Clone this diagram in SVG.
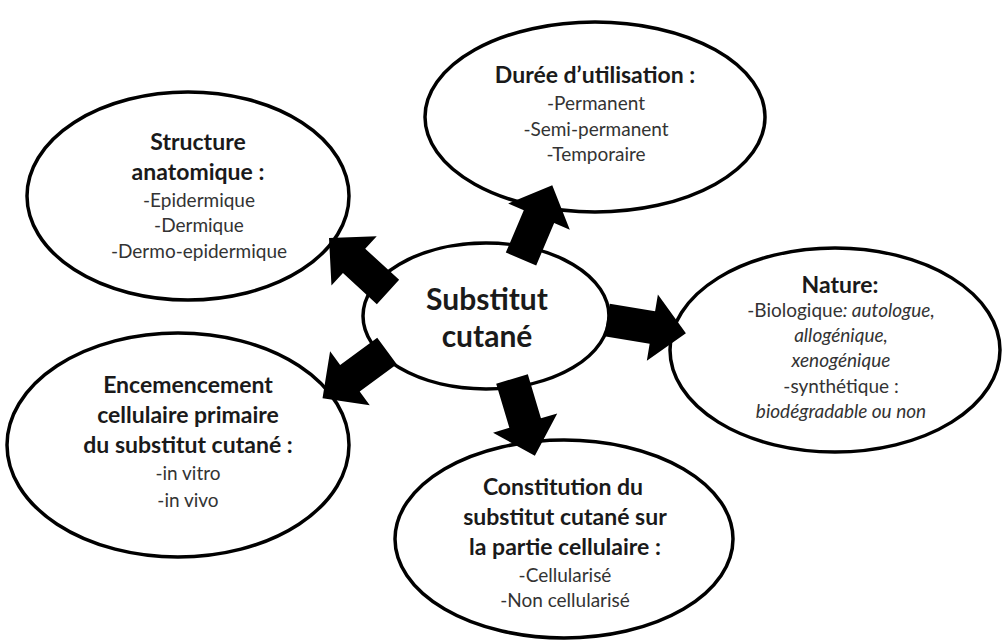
<svg xmlns="http://www.w3.org/2000/svg" xmlns:xlink="http://www.w3.org/1999/xlink" width="1002" height="644" viewBox="0 0 1002 644">
<style>
.ell{fill:#fff;stroke:#000;stroke-width:3.5}
text{font-family:Lato,"Liberation Sans",sans-serif;fill:#1a1a1a;text-anchor:middle}
.h{font-weight:bold;font-size:23px}
.c{font-weight:bold;font-size:30px}
.i{font-size:19px;fill:#333}
.it{font-style:italic}
</style>
<defs>
<polygon id="arr" points="0,-16.5 46,-16.5 46,-33.5 80,0 46,33.5 46,16.5 0,16.5" fill="#000"/>
</defs>
<rect width="1002" height="644" fill="#fff"/>
<g id="structure">
<ellipse class="ell" cx="188" cy="196" rx="161" ry="104"/>
<text class="h" x="198" y="150">Structure</text>
<text class="h" x="198" y="180">anatomique :</text>
<text class="i" x="199" y="207">-Epidermique</text>
<text class="i" x="199" y="232">-Dermique</text>
<text class="i" x="199" y="258">-Dermo-epidermique</text>
</g>
<g id="duree">
<ellipse class="ell" cx="595" cy="117" rx="170" ry="95"/>
<text class="h" x="595" y="83">Durée d’utilisation :</text>
<text class="i" x="596" y="110">-Permanent</text>
<text class="i" x="596" y="136">-Semi-permanent</text>
<text class="i" x="596" y="161">-Temporaire</text>
</g>
<g id="nature">
<ellipse class="ell" cx="835" cy="350" rx="165" ry="102"/>
<text class="h" x="840" y="293">Nature:</text>
<text class="i" x="841" y="317">-Biologique<tspan class="it">: autologue,</tspan></text>
<text class="i it" x="841" y="342">allogénique,</text>
<text class="i it" x="841" y="367">xenogénique</text>
<text class="i" x="841" y="393">-synthétique :</text>
<text class="i it" x="841" y="418">biodégradable ou non</text>
</g>
<g id="encemencement">
<ellipse class="ell" cx="178" cy="445" rx="171" ry="112"/>
<text class="h" x="188" y="393">Encemencement</text>
<text class="h" x="188" y="423">cellulaire primaire</text>
<text class="h" x="188" y="453">du substitut cutané :</text>
<text class="i" x="188" y="480">-in vitro</text>
<text class="i" x="188" y="507">-in vivo</text>
</g>
<g id="constitution">
<ellipse class="ell" cx="564" cy="539" rx="169" ry="99"/>
<text class="h" x="563" y="495">Constitution du</text>
<text class="h" x="565" y="525">substitut cutané sur</text>
<text class="h" x="565" y="555">la partie cellulaire :</text>
<text class="i" x="565" y="582">-Cellularisé</text>
<text class="i" x="565" y="607">-Non cellularisé</text>
</g>
<g id="center">
<ellipse class="ell" cx="486" cy="316" rx="123" ry="73"/>
<text class="c" x="487" y="310">Substitut</text>
<text class="c" x="487" y="347">cutané</text>
</g>
<g id="connectors">
<use xlink:href="#arr" transform="translate(388,292) rotate(-137.5)"/>
<use xlink:href="#arr" transform="translate(521,259) rotate(-67)"/>
<use xlink:href="#arr" transform="translate(607,320) rotate(9.5)"/>
<use xlink:href="#arr" transform="translate(387,351) rotate(143.7)"/>
<use xlink:href="#arr" transform="translate(512,379) rotate(73.4)"/>
</g>
</svg>
